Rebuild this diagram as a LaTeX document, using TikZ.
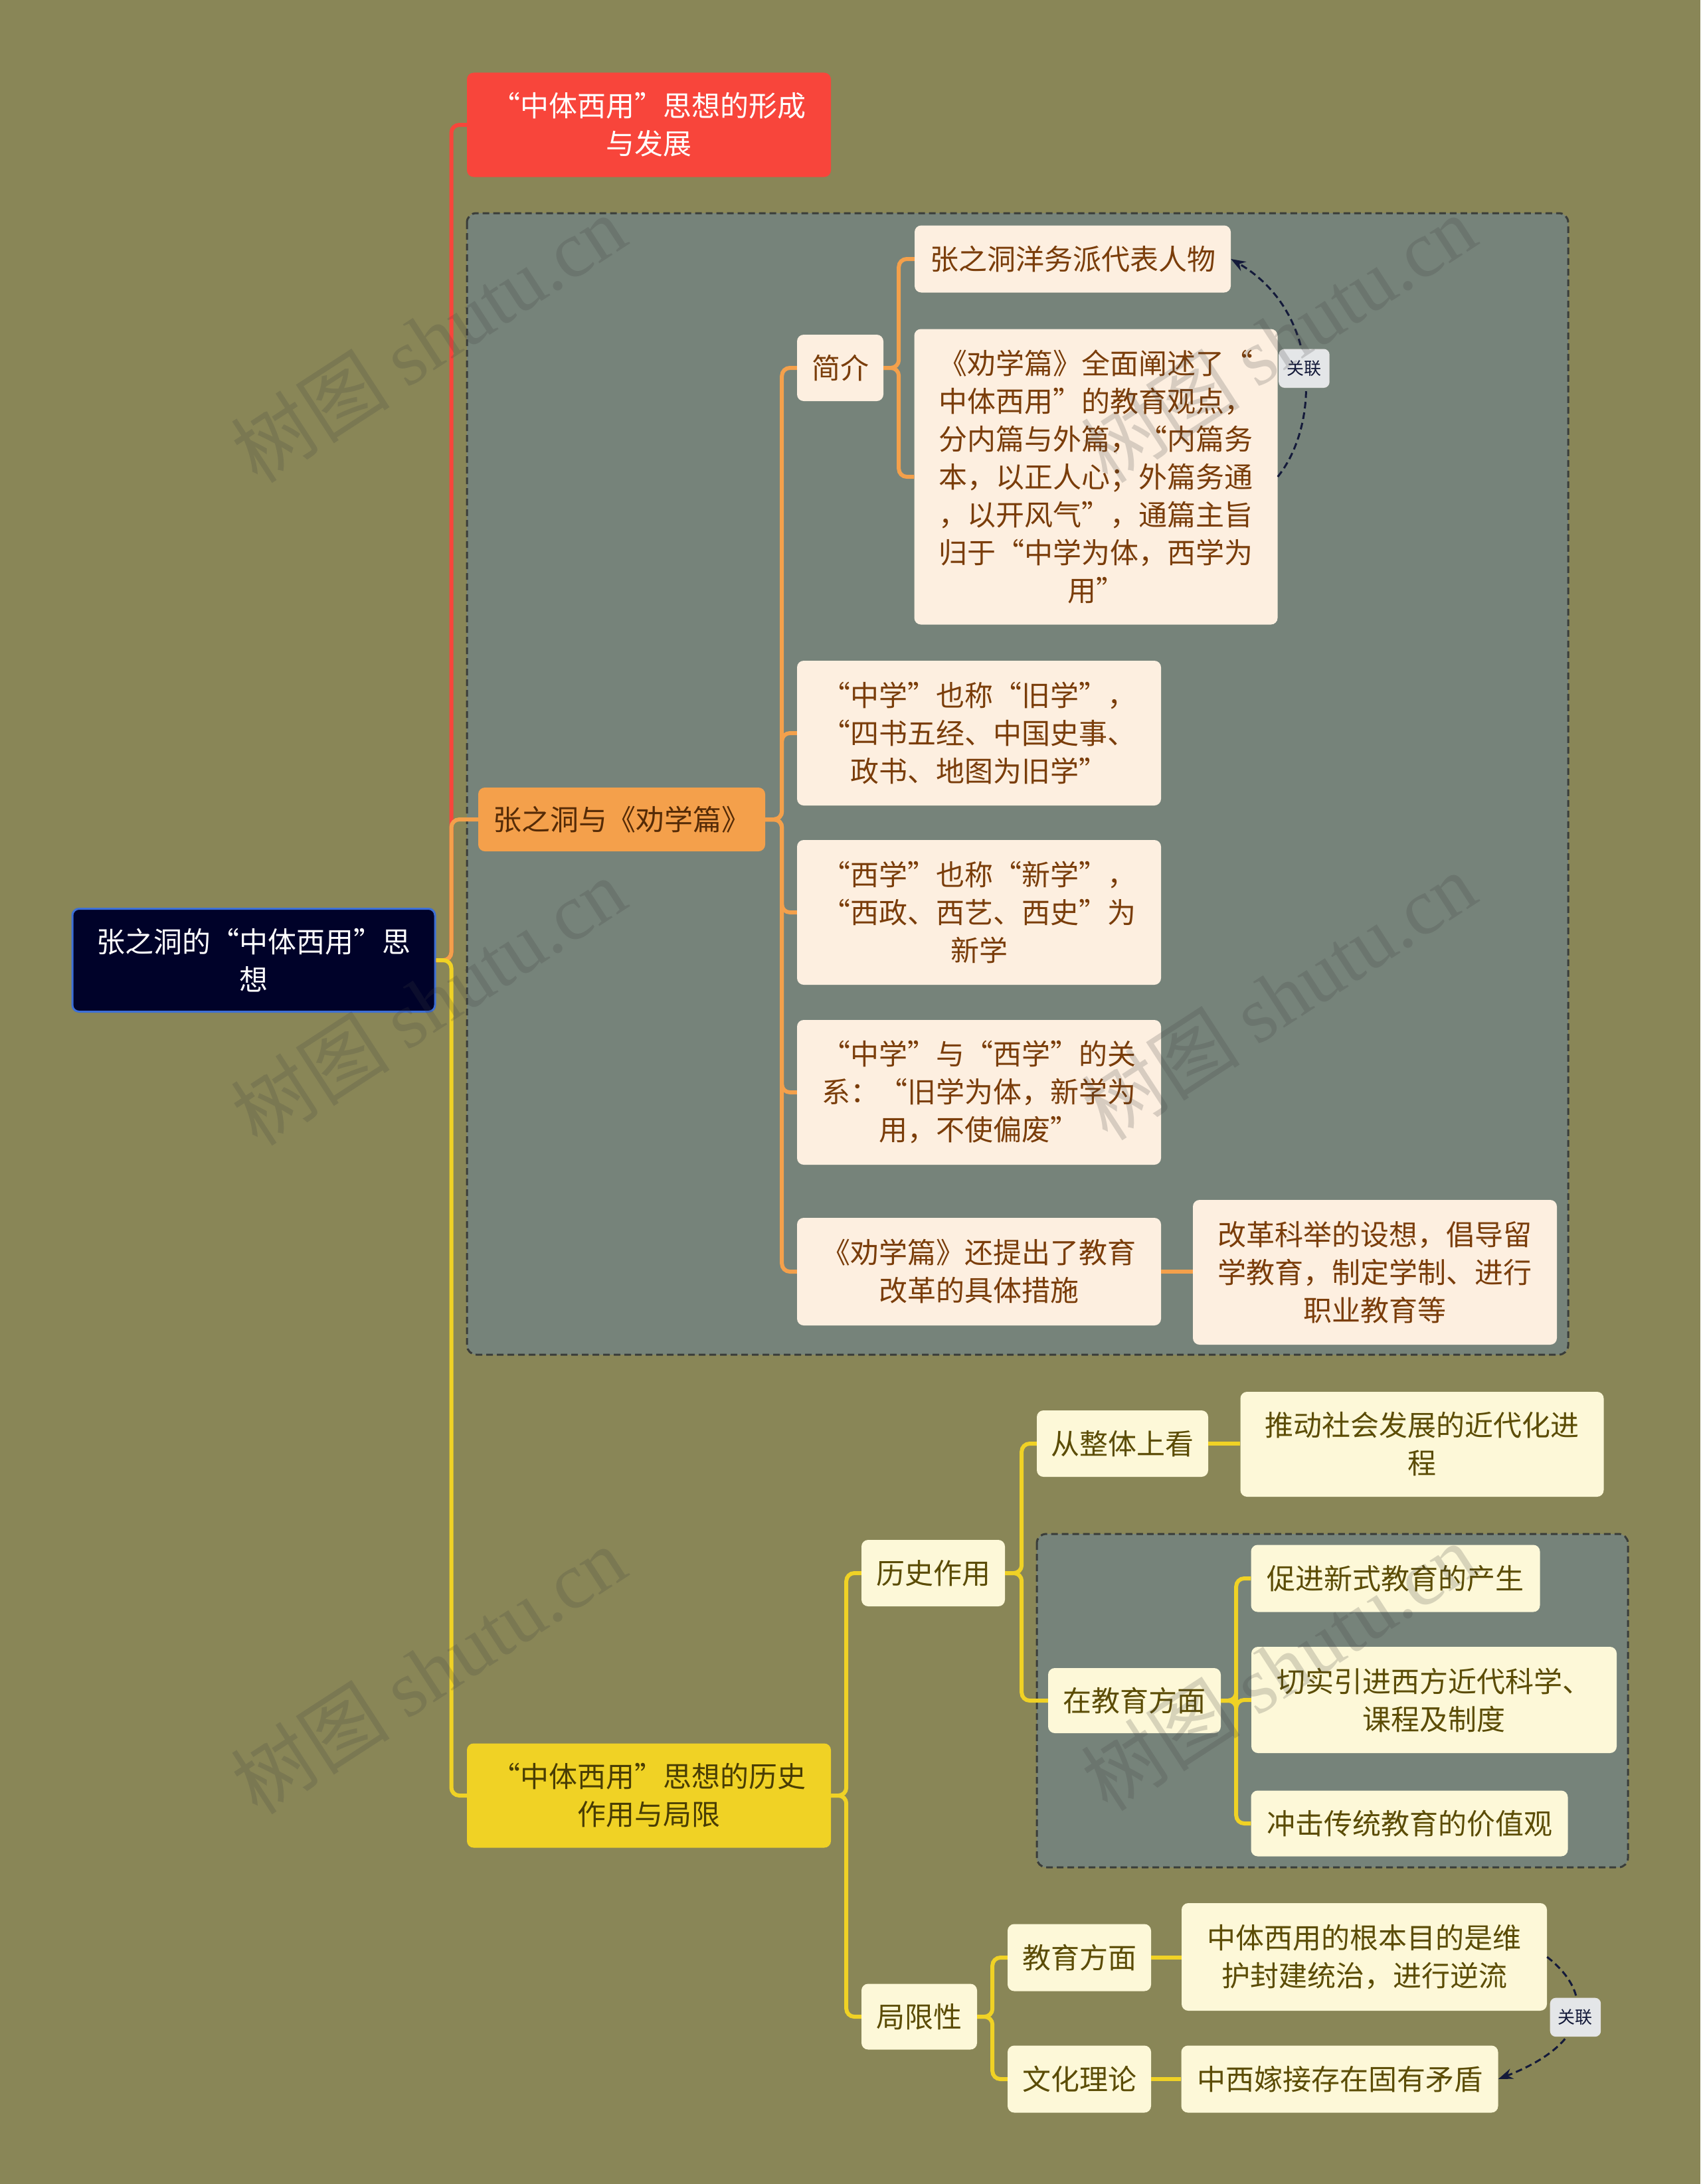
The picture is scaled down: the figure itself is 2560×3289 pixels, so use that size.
\documentclass[tikz,border=0pt]{standalone}
\usepackage{fontspec}
\setmainfont{Noto Sans CJK SC}
\newfontfamily\wmfont{Liberation Serif}
\usetikzlibrary{calc,arrows.meta}
\definecolor{bgc}{HTML}{898657}
\definecolor{grpc}{HTML}{76837A}
\definecolor{grpline}{HTML}{3A3D3A}
\definecolor{redc}{HTML}{F8453B}
\definecolor{orac}{HTML}{F4A04B}
\definecolor{yelc}{HTML}{F0D225}
\definecolor{rootc}{HTML}{000229}
\definecolor{rootline}{HTML}{3D6FD6}
\definecolor{leafOc}{HTML}{FDEFE0}
\definecolor{leafOt}{HTML}{7A3D0A}
\definecolor{leafYc}{HTML}{FDF8D8}
\definecolor{leafYt}{HTML}{5B4C05}
\definecolor{relc}{HTML}{141A3A}
\definecolor{labc}{HTML}{E4E6E8}
\begin{document}
\begin{tikzpicture}[x=1pt,y=-1pt,
  base/.style={rounded corners=10pt, inner sep=0pt, align=center, font=\fontsize{43}{57}\selectfont},
  rootbox/.style={base, fill=rootc, draw=rootline, line width=3pt, text=white},
  redbox/.style={base, fill=redc, text=white},
  orabox/.style={base, fill=orac, text=leafOt!70!black},
  yelbox/.style={base, fill=yelc, text=leafYt!80!black},
  leafO/.style={base, fill=leafOc, text=leafOt},
  leafY/.style={base, fill=leafYc, text=leafYt},
  grp/.style={fill=grpc, draw=grpline, line width=3pt, dash pattern=on 10pt off 6pt, rounded corners=14pt},
  conR/.style={draw=redc, line width=6pt, rounded corners=12pt},
  conO/.style={draw=orac, line width=6pt, rounded corners=12pt},
  conY/.style={draw=yelc, line width=6pt, rounded corners=12pt},
  rel/.style={draw=relc, line width=3pt, dash pattern=on 10pt off 6pt, -{Stealth[length=22pt,width=16pt]}},
  lab/.style={fill=labc, draw=white!80!gray, line width=1.5pt, rounded corners=8pt, text=relc, font=\fontsize{26}{30}\selectfont, minimum width=75pt, minimum height=57pt, inner sep=0pt, solid},
  wm/.style={rotate=33, text=black!75, opacity=0.2, font=\fontsize{120}{130}\selectfont}
]
\fill[bgc] (0,0) rectangle (2560,3289);
\useasboundingbox (0,0) rectangle (2560,3289);
% groups
\path[grp] (703,321) rectangle (2361,2040);
\path[grp] (1561,2310) rectangle (2451,2812);
% main nodes
\node[rootbox, minimum width=546pt, minimum height=155pt] (root) at (382,1446) {张之洞的“中体西用”思\\想};
\node[redbox, minimum width=548pt, minimum height=157pt] (red) at (977,188) {“中体西用”思想的形成\\与发展};
\node[orabox, minimum width=432pt, minimum height=96pt] (ora) at (936,1234) {张之洞与《劝学篇》};
\node[yelbox, minimum width=548pt, minimum height=157pt] (yel) at (977,2704) {“中体西用”思想的历史\\作用与局限};
% orange branch
\node[leafO, minimum width=130pt, minimum height=100pt] (jj) at (1265,554) {简介};
\node[leafO, minimum width=476pt, minimum height=101pt] (yw) at (1615,390) {张之洞洋务派代表人物};
\node[leafO, minimum width=547pt, minimum height=445pt] (big) at (1650,718) {《劝学篇》全面阐述了“\\中体西用”的教育观点，\\分内篇与外篇，“内篇务\\本，以正人心；外篇务通\\，以开风气”，通篇主旨\\归于“中学为体，西学为\\用”};
\node[leafO, minimum width=548pt, minimum height=218pt] (zx) at (1474,1104) {“中学”也称“旧学”，\\“四书五经、中国史事、\\政书、地图为旧学”};
\node[leafO, minimum width=548pt, minimum height=218pt] (xx) at (1474,1374) {“西学”也称“新学”，\\“西政、西艺、西史”为\\新学};
\node[leafO, minimum width=548pt, minimum height=218pt] (gx) at (1474,1645) {“中学”与“西学”的关\\系：“旧学为体，新学为\\用，不使偏废”};
\node[leafO, minimum width=548pt, minimum height=162pt] (cs) at (1474,1915) {《劝学篇》还提出了教育\\改革的具体措施};
\node[leafO, minimum width=548pt, minimum height=218pt] (gg) at (2070,1916) {改革科举的设想，倡导留\\学教育，制定学制、进行\\职业教育等};
% yellow branch
\node[leafY, minimum width=216pt, minimum height=100pt] (ls) at (1405,2369) {历史作用};
\node[leafY, minimum width=174pt, minimum height=99pt] (jx) at (1384,3037) {局限性};
\node[leafY, minimum width=258pt, minimum height=100pt] (zt) at (1690,2174) {从整体上看};
\node[leafY, minimum width=547pt, minimum height=158pt] (td) at (2141,2175) {推动社会发展的近代化进\\程};
\node[leafY, minimum width=260pt, minimum height=98pt] (jy) at (1708,2561) {在教育方面};
\node[leafY, minimum width=435pt, minimum height=101pt] (cj) at (2101,2377) {促进新式教育的产生};
\node[leafY, minimum width=550pt, minimum height=160pt] (qs) at (2159,2560) {切实引进西方近代科学、\\课程及制度};
\node[leafY, minimum width=477pt, minimum height=99pt] (cc) at (2122,2746) {冲击传统教育的价值观};
\node[leafY, minimum width=216pt, minimum height=101pt] (jyf) at (1625,2948) {教育方面};
\node[leafY, minimum width=216pt, minimum height=101pt] (wh) at (1625,3131) {文化理论};
\node[leafY, minimum width=550pt, minimum height=162pt] (gb) at (2054,2947) {中体西用的根本目的是维\\护封建统治，进行逆流};
\node[leafY, minimum width=477pt, minimum height=101pt] (mj) at (2017,3131) {中西嫁接存在固有矛盾};
% connectors from root
\draw[conR] (root.east) -- ++(23,0) |- (red.west);
\draw[conO] (root.east) -- ++(23,0) |- (ora.west);
\draw[conY] (root.east) -- ++(23,0) |- (yel.west);
% orange connectors
\foreach \c in {jj,zx,xx,gx,cs}{\draw[conO] (ora.east) -- ++(25,0) |- (\c.west);}
\foreach \c in {yw,big}{\draw[conO] (jj.east) -- ++(23,0) |- (\c.west);}
\draw[conO] (cs.east) -- (cs.east -| gg.west);
% yellow connectors
\foreach \c in {ls,jx}{\draw[conY] (yel.east) -- ++(23,0) |- (\c.west);}
\foreach \c in {zt,jy}{\draw[conY] (ls.east) -- ++(25,0) |- (\c.west);}
\draw[conY] (zt.east) -- (zt.east -| td.west);
\foreach \c in {cj,qs,cc}{\draw[conY] (jy.east) -- ++(23,0) |- (\c.west);}
\foreach \c in {jyf,wh}{\draw[conY] (jx.east) -- ++(23,0) |- (\c.west);}
\draw[conY] (jyf.east) -- (jyf.east -| gb.west);
\draw[conY] (wh.east) -- (wh.east -| mj.west);
% relations
\draw[rel] (big.east) .. controls +(63,-78) and +(137,80) .. node[lab, pos=0.5] (l1) {关联} (yw.east);
\draw[rel] (gb.east) .. controls +(68,53) and +(144,-56) .. node[lab, pos=0.5] (l2) {关联} (mj.east);
% watermarks
\foreach \p [count=\i] in {(645,510),(645,1508),(645,2515),(1925,510),(1925,1500),(1925,2510)}{
  \node[wm] (wm\i) at \p {树图 {\wmfont shutu.cn}};
}
\end{tikzpicture}
\end{document}
